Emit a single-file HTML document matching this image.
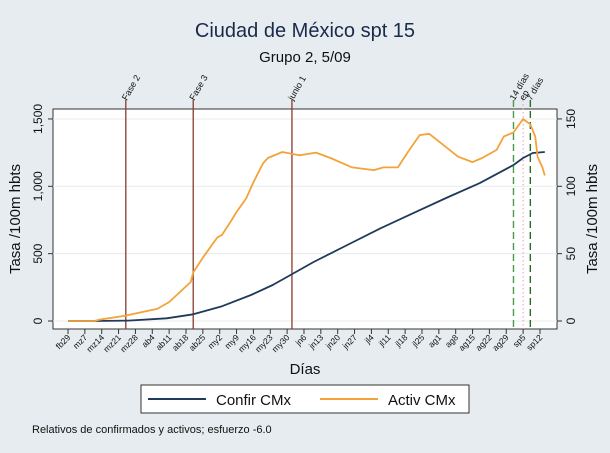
<!DOCTYPE html>
<html><head><meta charset="utf-8">
<style>
html,body{margin:0;padding:0;background:#e6ecef;}
svg{display:block;font-family:"Liberation Sans",sans-serif;}
</style></head>
<body>
<svg id="chart" width="610" height="453" viewBox="0 0 610 453">
<rect x="0" y="0" width="610" height="453" fill="#e6ecef"/>
<text x="305" y="37" text-anchor="middle" font-size="20" fill="#1a2a4a">Ciudad de México spt 15</text>
<text x="305" y="62" text-anchor="middle" font-size="15" fill="#111">Grupo 2,  5/09</text>
<rect x="53" y="109" width="504" height="220" fill="#fff" stroke="#333" stroke-width="1"/>
<g id="grid"></g>
<g id="vlines"></g>
<g id="series"></g>
<g id="axes"></g>
<text x="305" y="374" text-anchor="middle" font-size="15" fill="#111">Días</text>
<text transform="translate(20,219) rotate(-90)" text-anchor="middle" font-size="15" fill="#111">Tasa /100m hbts</text>
<text transform="translate(597,219) rotate(-90)" text-anchor="middle" font-size="15" fill="#111">Tasa /100m hbts</text>
<g>
<rect x="141" y="385" width="328" height="28" fill="#fff" stroke="#333" stroke-width="1"/>
<line x1="148" y1="399" x2="206" y2="399" stroke="#1f3a5a" stroke-width="2"/>
<text x="216" y="405" font-size="15" fill="#111">Confir CMx</text>
<line x1="320" y1="399" x2="378" y2="399" stroke="#f2a33a" stroke-width="2"/>
<text x="388" y="405" font-size="15" fill="#111">Activ CMx</text>
</g>
<text x="32" y="433" font-size="11" fill="#111">Relativos de confirmados y activos; esfuerzo -6.0</text>
</svg>
<script>
var confDays = [0,11,25,41,52,64,76,85,96,102,116,130,143,157,171,185,189,193,198];
var confVals = [0,0,3,20,50,110,193,267,378,438,564,690,797,913,1024,1158,1210,1247,1255];
var actDays = [0,11,13,24,37,42,51,52,56,62,64,68,70,74,77,81,83,89,96,103,109,118,127,131,137,141,146,150,157,162,168,172,178,181,185,189,192,194,195,197,198];
var actVals = [0,0,1,4,9,14,29,36,47,62,64,75,81,91,103,117,121,125.5,123,125,121,114,112,114,114,125,138,139,129,122,118,121,127,137,140,150,146,137,122,114,108];
var leftTicks = [0,500,1000,1500];
var leftTickLabels = ["0","500","1,000","1,500"];
var rightTicks = [0,50,100,150];
var xTickLabels = ["fb29","mz7","mz14","mz21","mz28","ab4","ab11","ab18","ab25","my2","my9","my16","my23","my30","jn6","jn13","jn20","jn27","jl4","jl11","jl18","jl25","ag1","ag8","ag15","ag22","ag29","sp5","sp12"];
var eventDays = [24,52,93];
var eventLabels = ["Fase 2","Fase 3","junio 1"];
var dashDays = [185,192];
var dashLabels = ["14 días","7 días"];
var dotDays = [189];
var dotLabels = ["ep"];

var NS="http://www.w3.org/2000/svg";
function X(d){return 68+d*2.408;}
function YL(v){return 321-v*0.1347;}
function YR(v){return 321-v*1.347;}
function mk(tag,attrs,parent){var e=document.createElementNS(NS,tag);for(var k in attrs)e.setAttribute(k,attrs[k]);parent.appendChild(e);return e;}
var grid=document.getElementById('grid'),vl=document.getElementById('vlines'),ser=document.getElementById('series'),ax=document.getElementById('axes');

leftTicks.forEach(function(v,i){
  var y=YL(v);
  var g=mk('line',{x1:53,x2:557,y1:y,y2:y,stroke:'#e8ecee','stroke-width':1},grid);
  
  
  var t=mk('line',{x1:48,x2:53,y1:y,y2:y,stroke:'#333'},ax);
  
  
  var tx=mk('text',{transform:'translate(42,'+y+') rotate(-90)','text-anchor':'middle','font-size':12,fill:'#111'},ax);
  tx.textContent=leftTickLabels[i];
  
  
});
rightTicks.forEach(function(v){
  var y=YR(v);
  var t=mk('line',{x1:557,x2:562,y1:y,y2:y,stroke:'#333'},ax);
  
  
  var tx=mk('text',{transform:'translate(575,'+y+') rotate(-90)','text-anchor':'middle','font-size':12,fill:'#111'},ax);
  tx.textContent=String(v);
  
  
});
xTickLabels.forEach(function(l,i){
  var x=X(i*7);
  var t=mk('line',{x1:x,x2:x,y1:329,y2:334,stroke:'#333'},ax);
  
  
  var tx=mk('text',{transform:'translate('+(x+3)+',338) rotate(-45)','text-anchor':'end','font-size':8.5,fill:'#111'},ax);
  tx.textContent=l;
  
  
});
eventDays.forEach(function(d,i){
  var x=X(d);
  var l=mk('line',{x1:x,x2:x,y1:100,y2:329,stroke:'#8a3b2b','stroke-width':1.3},vl);
  
  
  var tx=mk('text',{transform:'translate('+(x+1)+',101) rotate(-60)','font-size':9,fill:'#111'},vl);
  tx.textContent=eventLabels[i];
  
  
});
dashDays.forEach(function(d,i){
  var x=X(d);
  var l=mk('line',{x1:x,x2:x,y1:100,y2:329,stroke:i==0?'#4a9a4a':'#2a6a2a','stroke-width':1.4,'stroke-dasharray':'7,4'},vl);
  
  
  var tx=mk('text',{transform:'translate('+(x+1)+',101) rotate(-60)','font-size':9,fill:'#111'},vl);
  tx.textContent=dashLabels[i];
  
  
});
dotDays.forEach(function(d,i){
  var x=X(d);
  var l=mk('line',{x1:x,x2:x,y1:100,y2:329,stroke:'#e39ac0','stroke-width':1,'stroke-dasharray':'1.5,2.5'},vl);
  
  
  var tx=mk('text',{transform:'translate('+(x+1)+',101) rotate(-60)','font-size':9,fill:'#111'},vl);
  tx.textContent=dotLabels[i];
  
  
});
function path(days,vals,yf){return days.map(function(d,i){return (i?'L':'M')+X(d).toFixed(1)+','+yf(vals[i]).toFixed(1);}).join('');}
var pc=mk('path',{d:path(confDays,confVals,YL),fill:'none',stroke:'#1f3a5a','stroke-width':1.8,'stroke-linejoin':'round'},ser);


var pa=mk('path',{d:path(actDays,actVals,YR),fill:'none',stroke:'#f2a33a','stroke-width':1.8,'stroke-linejoin':'round'},ser);


</script>
</body></html>
